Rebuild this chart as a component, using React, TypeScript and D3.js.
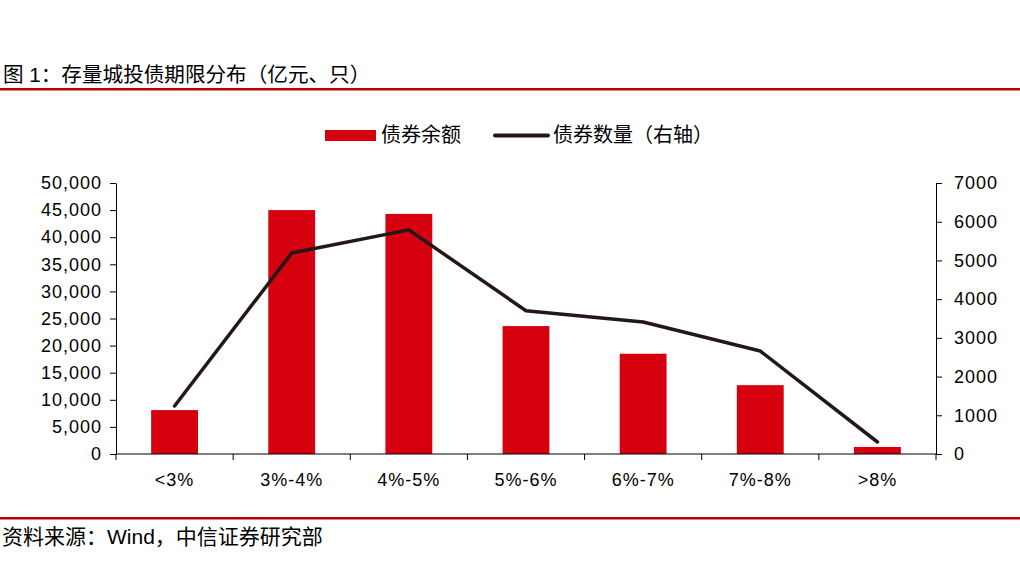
import { useEffect, useRef } from "react";
import * as d3 from "d3";

const categories = ["<3%", "3%-4%", "4%-5%", "5%-6%", "6%-7%", "7%-8%", ">8%"];
const balance = [8100, 45000, 44300, 23600, 18500, 12700, 1300];
const counts = [1240, 5190, 5790, 3700, 3410, 2660, 310];
const leftTicks = [0, 5000, 10000, 15000, 20000, 25000, 30000, 35000, 40000, 45000, 50000];
const rightTicks = [0, 1000, 2000, 3000, 4000, 5000, 6000, 7000];

const W = 1020;
const H = 584;
const FONT = "Arial, 'Liberation Sans', 'Noto Sans CJK SC', sans-serif";
const RED = "#d7000f";
const LINE = "#231815";

export default function App() {
  const svgRef = useRef<SVGSVGElement>(null);

  useEffect(() => {
    if (!svgRef.current) return;
    const svg = d3.select(svgRef.current);
    svg.selectAll("*").remove();

    const margin = { top: 183, right: 84, bottom: 130, left: 116 };
    const innerWidth = W - margin.left - margin.right;
    const innerHeight = H - margin.top - margin.bottom;

    // Title and frame lines
    svg.append("text")
      .attr("x", 3).attr("y", 82)
      .attr("font-family", FONT).attr("font-size", 20.6).attr("fill", "#000")
      .text("图 1：存量城投债期限分布（亿元、只）");
    svg.append("rect").attr("x", 0).attr("y", 88).attr("width", W).attr("height", 2.5).attr("fill", "#c00000");
    svg.append("rect").attr("x", 0).attr("y", 517).attr("width", W).attr("height", 2.5).attr("fill", "#c00000");
    svg.append("text")
      .attr("x", 2).attr("y", 544)
      .attr("font-family", FONT).attr("font-size", 21).attr("fill", "#000")
      .text("资料来源：Wind，中信证券研究部");

    // Legend
    const legend = svg.append("g").attr("font-family", FONT).attr("font-size", 20).attr("fill", "#000");
    legend.append("rect").attr("x", 325).attr("y", 130).attr("width", 51).attr("height", 11).attr("fill", RED);
    legend.append("text").attr("x", 381).attr("y", 142).text("债券余额");
    legend.append("line").attr("x1", 495).attr("x2", 548).attr("y1", 135.5).attr("y2", 135.5)
      .attr("stroke", LINE).attr("stroke-width", 4).attr("stroke-linecap", "round");
    legend.append("text").attr("x", 553).attr("y", 142).text("债券数量（右轴）");

    const g = svg.append("g").attr("transform", `translate(${margin.left},${margin.top})`);

    const x = d3.scaleBand().domain(categories).range([0, innerWidth]).paddingInner(0).paddingOuter(0);
    const yL = d3.scaleLinear().domain([0, 50000]).range([innerHeight, 0]);
    const yR = d3.scaleLinear().domain([0, 7000]).range([innerHeight, 0]);

    const barW = x.bandwidth() * 0.4;

    // Bars
    g.selectAll(".bar")
      .data(categories.map((c, i) => ({ c, v: balance[i] })))
      .enter()
      .append("rect")
      .attr("class", "bar")
      .attr("x", (d) => (x(d.c) as number) + (x.bandwidth() - barW) / 2)
      .attr("y", (d) => yL(d.v))
      .attr("width", barW)
      .attr("height", (d) => innerHeight - yL(d.v))
      .attr("fill", RED);

    const styleTicks = (sel: d3.Selection<SVGGElement, unknown, null, undefined>) => {
      sel.select(".domain").attr("stroke", "#000");
      sel.selectAll(".tick line").attr("stroke", "#000");
      sel.selectAll("text")
        .attr("font-family", FONT).attr("font-size", 18).attr("letter-spacing", 1).attr("fill", "#000");
    };

    // Left axis
    const left = g.append("g")
      .call(d3.axisLeft(yL).tickValues(leftTicks).tickSize(6).tickSizeOuter(0).tickPadding(8).tickFormat(d3.format(",")));
    styleTicks(left);

    // Right axis
    const right = g.append("g")
      .attr("transform", `translate(${innerWidth},0)`)
      .call(d3.axisRight(yR).tickValues(rightTicks).tickSize(6).tickSizeOuter(0).tickPadding(12).tickFormat(d3.format("d")));
    styleTicks(right);

    // Bottom axis: ticks at category boundaries
    const bottom = g.append("g").attr("transform", `translate(0,${innerHeight})`);
    bottom.append("line").attr("x1", 0).attr("x2", innerWidth).attr("stroke", "#000");
    const bounds = [...categories.map((c) => x(c) as number), innerWidth];
    bottom.selectAll(".bt")
      .data(bounds)
      .enter()
      .append("line")
      .attr("x1", (d) => d).attr("x2", (d) => d)
      .attr("y1", 0).attr("y2", 6)
      .attr("stroke", "#000");
    bottom.selectAll(".bl")
      .data(categories)
      .enter()
      .append("text")
      .attr("x", (d) => (x(d) as number) + x.bandwidth() / 2)
      .attr("y", 32)
      .attr("text-anchor", "middle")
      .attr("font-family", FONT).attr("font-size", 18).attr("letter-spacing", 1).attr("fill", "#000")
      .text((d) => d);

    // Count line
    const line = d3.line<{ c: string; v: number }>()
      .x((d) => (x(d.c) as number) + x.bandwidth() / 2)
      .y((d) => yR(d.v));
    g.append("path")
      .datum(categories.map((c, i) => ({ c, v: counts[i] })))
      .attr("fill", "none")
      .attr("stroke", LINE)
      .attr("stroke-width", 3.5)
      .attr("stroke-linejoin", "round")
      .attr("stroke-linecap", "round")
      .attr("d", line);
  }, []);

  return (
    <svg
      ref={svgRef}
      width={W}
      height={H}
      style={{ display: "block", position: "fixed", left: 0, top: 0, background: "#fff" }}
    />
  );
}
